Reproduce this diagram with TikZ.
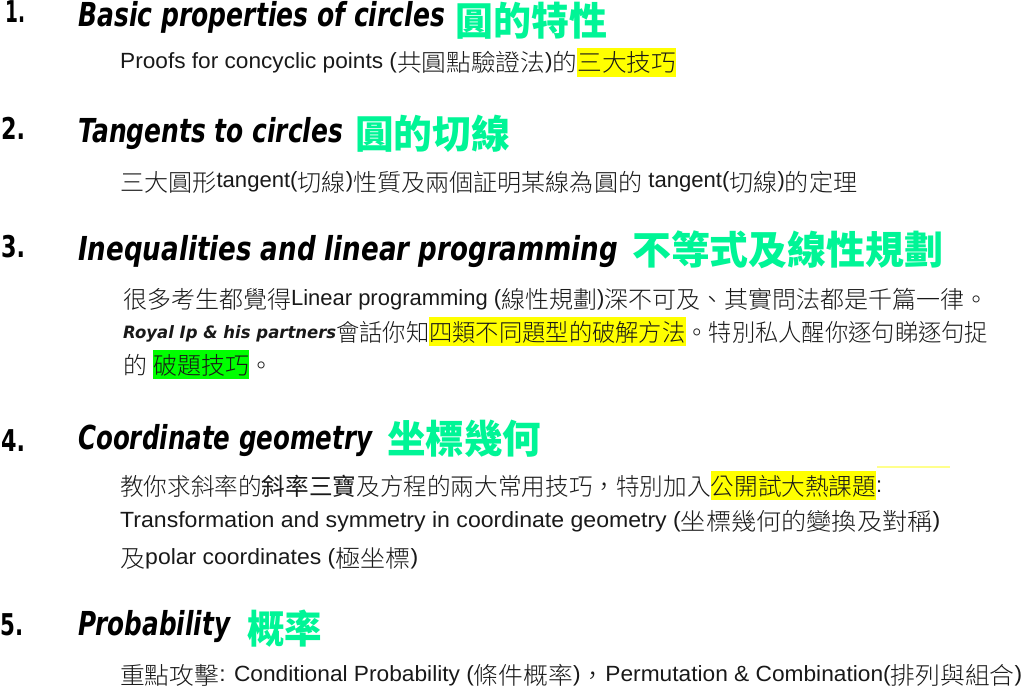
\documentclass[tikz,border=0pt]{standalone}
\usepackage{fontspec}
\usepackage{graphicx}
\setmainfont{Liberation Sans}
\newfontfamily\cjkl{Noto Sans CJK TC}[UprightFont=* Light]
\newfontfamily\cjkr{Noto Sans CJK TC}
\newfontfamily\cjkb{Noto Sans CJK TC}[UprightFont=* Black]
\newfontfamily\hdfont{DejaVu Sans}
\definecolor{grn}{RGB}{0,245,150}
\definecolor{hly}{RGB}{255,255,0}
\definecolor{hlg}{RGB}{0,255,0}
\definecolor{txt}{RGB}{25,25,25}
\definecolor{faint}{RGB}{255,255,140}
\newcommand\C[1]{\raisebox{-3pt}{\cjkl\fontsize{24}{24}\selectfont #1}}
\newcommand\CR[1]{\raisebox{-3pt}{\cjkr\fontsize{24}{24}\selectfont #1}}
\newcommand\hlbox[2]{{\setlength\fboxsep{0pt}\colorbox{#1}{\rule[-8pt]{0pt}{29pt}#2}}}
\newcommand\fitw[2]{\resizebox{#1}{\height}{#2}}
\tikzset{
  hd/.style={inner sep=0pt, anchor=base west, text=black,
    font=\hdfont\bfseries\itshape\fontsize{33}{33}\selectfont},
  num/.style={inner sep=0pt, anchor=base west, text=black,
    font=\hdfont\bfseries\fontsize{30}{30}\selectfont},
  gr/.style={inner sep=0pt, anchor=west, text=grn,
    font=\cjkb\fontsize{39}{39}\selectfont},
  body/.style={inner sep=0pt, anchor=base west, text=txt,
    font=\fontsize{22}{22}\selectfont},
}
\begin{document}
\begin{tikzpicture}[x=1pt,y=-1pt]
\useasboundingbox (0,0) rectangle (1024,687);
\fill[white] (0,0) rectangle (1024,687);

% ---------- 1 ----------
\node[num] (n1) at (5,23) {\fitw{20pt}{1.}};
\node[hd] (h1) at (78,27) {\fitw{367pt}{Basic properties of circles}};
\node[gr] (g1) at (455,20.5) {\fitw{152pt}{圓的特性}};
\node[body] (b1) at (120,69) {\fitw{556pt}{Proofs for concyclic points (\C{共圓點驗證法})\C{的}\hlbox{hly}{\C{三大技巧}}}};

% ---------- 2 ----------
\node[num] (n2) at (1,140) {\fitw{24pt}{2.}};
\node[hd] (h2) at (78,143) {\fitw{265pt}{Tangents to circles}};
\node[gr] (g2) at (355,133.5) {\fitw{155pt}{圓的切線}};
\node[body] (b2) at (120,188) {\fitw{737pt}{\C{三大圓形}tangent(\C{切線})\C{性質及兩個証明某線為圓的} tangent(\C{切線})\C{的定理}}};

% ---------- 3 ----------
\node[num] (n3) at (1,257) {\fitw{24pt}{3.}};
\node[hd] (h3) at (78,260) {\fitw{540pt}{Inequalities and linear programming}};
\node[gr] (g3) at (632,249.5) {\fitw{311pt}{不等式及線性規劃}};
\node[body] (b3a) at (123,305) {\fitw{865pt}{\C{很多考生都覺得}Linear programming (\C{線性規劃})\C{深不可及、其實問法都是千篇一律。}}};
\node[body] (b3b) at (123,338) {\fitw{865pt}{{\hdfont\bfseries\itshape\fontsize{17}{17}\selectfont Royal Ip \& his partners}\C{會話你知}\hlbox{hly}{\C{四類不同題型的破解方法}}\C{。特別私人醒你逐句睇逐句捉}}};
\node[body] (b3c) at (123,371) {\C{的} \hlbox{hlg}{\C{破題技巧}}\C{。}};

% ---------- 4 ----------
\node[num] (n4) at (1,451) {\fitw{24pt}{4.}};
\node[hd] (h4) at (78,449) {\fitw{294pt}{Coordinate geometry}};
\node[gr] (g4) at (387,438.5) {\fitw{154pt}{坐標幾何}};
\node[body] (b4a) at (120,492) {\fitw{762pt}{\C{教你求斜率的}\CR{斜率三寶}\C{及方程的兩大常用技巧，特別加入}\hlbox{hly}{\C{公開試大熱課題}}:}};
\coordinate (ya) at (877,467);
\coordinate (yb) at (950,467);
\draw[faint, line width=1.5pt] (ya) -- (yb);
\node[body] (b4b) at (120,527) {\fitw{820pt}{Transformation and symmetry in coordinate geometry (\C{坐標幾何的變換及對稱})}};
\node[body] (b4c) at (120,564) {\fitw{298pt}{\C{及}polar coordinates (\C{極坐標})}};

% ---------- 5 ----------
\node[num] (n5) at (0,635) {\fitw{23pt}{5.}};
\node[hd] (h5) at (78,635) {\fitw{152pt}{Probability}};
\node[gr] (g5) at (247,628.5) {\fitw{75pt}{概率}};
\node[body] (b5) at (120,681) {\fitw{902pt}{\C{重點攻擊}: Conditional Probability (\C{條件概率})\C{，}Permutation \& Combination(\C{排列與組合})}};
\end{tikzpicture}
\end{document}
